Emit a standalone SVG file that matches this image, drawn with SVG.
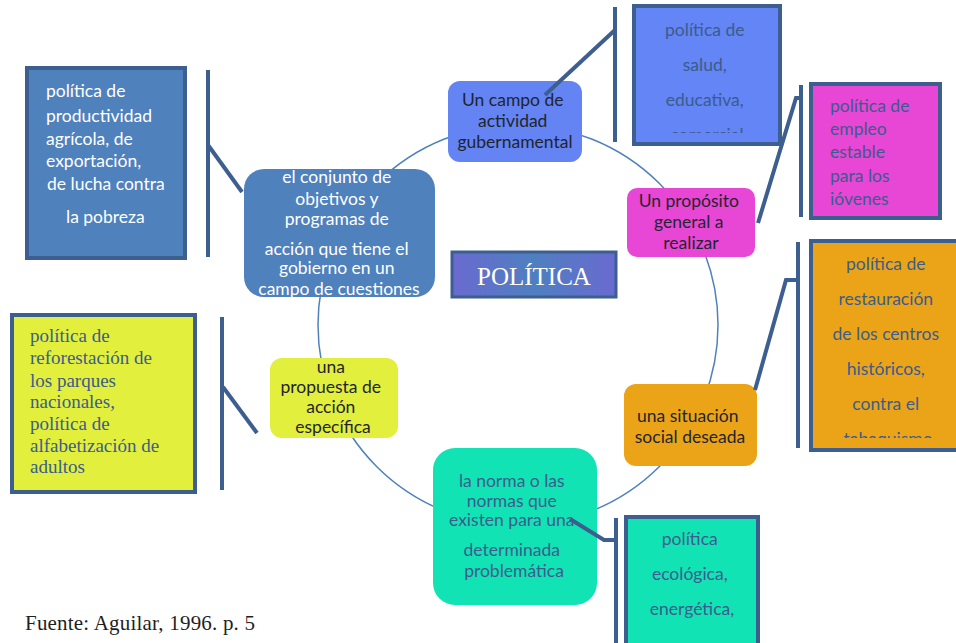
<svg xmlns="http://www.w3.org/2000/svg" width="956" height="643" viewBox="0 0 956 643">
<defs>
<style>
.sans{font-family:Lato,"Liberation Sans",sans-serif;font-size:17.5px}
.serif{font-family:"Liberation Serif","Times New Roman",serif}
.dark{fill:#1f2430}
.bt{fill:#3b5c8c}
.wt{fill:#ffffff}
.box{stroke:#3d5f8f;stroke-width:4}
.conn{stroke:#3d5f8f;stroke-width:4;fill:none}
.circ{stroke:#4f81bd;stroke-width:1.5;fill:none}
</style>
<clipPath id="c1"><rect x="634" y="6" width="146" height="127"/></clipPath>
<clipPath id="c2"><rect x="811" y="241" width="145" height="197"/></clipPath>
<clipPath id="c3"><rect x="811" y="84" width="129" height="121"/></clipPath>
<linearGradient id="pg" x1="0" y1="0" x2="1" y2="0">
<stop offset="0" stop-color="#6a6ad0"/><stop offset="0.5" stop-color="#4f7fc0"/><stop offset="1" stop-color="#6a6ad0"/>
</linearGradient>
</defs>
<rect width="956" height="643" fill="#ffffff"/>
<g id="ring">
<circle class="circ" cx="518" cy="325" r="200"/>
</g>
<g id="n-conjunto">
<rect x="244" y="169" width="191" height="128" rx="20" fill="#4f81bd"/>
<text class="sans wt" text-anchor="middle">
<tspan x="339" y="183">el conjunto de</tspan>
<tspan x="339" y="205">objetivos y</tspan>
<tspan x="339" y="225">programas de</tspan>
<tspan x="339" y="255">acción que tiene el</tspan>
<tspan x="339" y="274">gobierno en un</tspan>
<tspan x="339" y="295">campo de cuestiones</tspan>
</text>
</g>
<g id="n-campo">
<rect x="448" y="81" width="134" height="81" rx="12" fill="#6384f2"/>
<text class="sans dark" text-anchor="middle">
<tspan x="515" y="106">Un campo de</tspan>
<tspan x="515" y="127">actividad</tspan>
<tspan x="515" y="148">gubernamental</tspan>
</text>
</g>
<g id="n-proposito">
<rect x="627" y="188" width="128" height="69" rx="10" fill="#e846d4"/>
<text class="sans dark" text-anchor="middle">
<tspan x="691" y="207">Un propósito</tspan>
<tspan x="691" y="228">general a</tspan>
<tspan x="691" y="249">realizar</tspan>
</text>
</g>
<g id="n-politica">
<rect x="452" y="252" width="164" height="45" fill="url(#pg)" stroke="#3d5f8f" stroke-width="3"/>
<text class="serif wt" x="534" y="285" text-anchor="middle" font-size="25">POLÍTICA</text>
</g>
<g id="n-situacion">
<rect x="624" y="384" width="133" height="82" rx="12" fill="#eba418"/>
<text class="sans dark" text-anchor="middle">
<tspan x="690" y="422">una situación</tspan>
<tspan x="690" y="443">social deseada</tspan>
</text>
</g>
<g id="n-norma">
<rect x="433" y="448" width="164" height="157" rx="22" fill="#12e3b4"/>
<text class="sans bt" text-anchor="middle">
<tspan x="514" y="487">la norma o las</tspan>
<tspan x="514" y="507">normas que</tspan>
<tspan x="514" y="526">existen para una</tspan>
<tspan x="514" y="556">determinada</tspan>
<tspan x="514" y="577">problemática</tspan>
</text>
</g>
<g id="n-propuesta">
<rect x="270" y="358" width="128" height="80" rx="12" fill="#e2ef3c"/>
<text class="sans dark" text-anchor="middle">
<tspan x="333" y="373">una</tspan>
<tspan x="333" y="393">propuesta de</tspan>
<tspan x="333" y="413">acción</tspan>
<tspan x="333" y="433">específica</tspan>
</text>
</g>
<g id="b-agricola">
<rect class="box" x="27" y="68" width="158" height="190" fill="#4f81bd"/>
<text class="sans wt">
<tspan x="46" y="97">política de</tspan>
<tspan x="46" y="122">productividad</tspan>
<tspan x="46" y="145">agrícola, de</tspan>
<tspan x="46" y="167">exportación,</tspan>
<tspan x="47" y="190">de lucha contra</tspan>
<tspan x="66" y="223">la pobreza</tspan>
</text>
</g>
<g id="b-salud">
<rect class="box" x="634" y="6" width="146" height="138" fill="#6385f5"/>
<text class="sans bt" text-anchor="middle" clip-path="url(#c1)">
<tspan x="707" y="36">política de</tspan>
<tspan x="707" y="71">salud,</tspan>
<tspan x="707" y="106">educativa,</tspan>
<tspan x="707" y="141">comercial</tspan>
</text>
</g>
<g id="b-empleo">
<rect class="box" x="811" y="84" width="129" height="134" fill="#e846d4"/>
<text class="sans bt" clip-path="url(#c3)">
<tspan x="830" y="112">política de</tspan>
<tspan x="830" y="135">empleo</tspan>
<tspan x="830" y="158">estable</tspan>
<tspan x="830" y="182">para los</tspan>
<tspan x="830" y="205">jóvenes</tspan>
</text>
</g>
<g id="b-restauracion">
<rect class="box" x="811" y="241" width="160" height="209" fill="#eba418"/>
<text class="sans bt" text-anchor="middle" clip-path="url(#c2)">
<tspan x="888" y="270">política de</tspan>
<tspan x="888" y="305">restauración</tspan>
<tspan x="888" y="340">de los centros</tspan>
<tspan x="888" y="375">históricos,</tspan>
<tspan x="888" y="410">contra el</tspan>
<tspan x="888" y="445">tabaquismo</tspan>
</text>
</g>
<g id="b-ecologica">
<rect class="box" x="626" y="517" width="132" height="140" fill="#12e3b4"/>
<text class="sans bt" text-anchor="middle">
<tspan x="692" y="545">política</tspan>
<tspan x="692" y="580">ecológica,</tspan>
<tspan x="692" y="615">energética,</tspan>
</text>
</g>
<g id="b-reforestacion">
<rect class="box" x="12" y="315" width="183" height="177" fill="#e2ef3c"/>
<text class="serif bt" font-size="19">
<tspan x="30" y="342">política de</tspan>
<tspan x="30" y="364">reforestación de</tspan>
<tspan x="30" y="387">los parques</tspan>
<tspan x="30" y="408">nacionales,</tspan>
<tspan x="30" y="430">política de</tspan>
<tspan x="30" y="452">alfabetización de</tspan>
<tspan x="30" y="473">adultos</tspan>
</text>
</g>
<g id="connectors">
<line class="conn" x1="242" y1="192" x2="208" y2="145"/>
<line class="conn" x1="208" y1="70" x2="208" y2="257"/>
<line class="conn" x1="545" y1="95" x2="615" y2="30"/>
<line class="conn" x1="615" y1="7" x2="615" y2="142"/>
<polyline class="conn" points="758,223 796,98 801,98"/>
<line class="conn" x1="801" y1="85" x2="801" y2="217"/>
<polyline class="conn" points="755,390 786,280 798,280"/>
<line class="conn" x1="798" y1="242" x2="798" y2="448"/>
<polyline class="conn" points="570,519 604,540 616,540"/>
<line class="conn" x1="616" y1="518" x2="616" y2="643"/>
<line class="conn" x1="257" y1="433" x2="223" y2="387"/>
<line class="conn" x1="222" y1="317" x2="222" y2="490"/>
</g>
<text class="serif" x="25" y="630" font-size="21" textLength="230" lengthAdjust="spacing" fill="#1f1f1f">Fuente: Aguilar, 1996. p. 5</text>
</svg>
